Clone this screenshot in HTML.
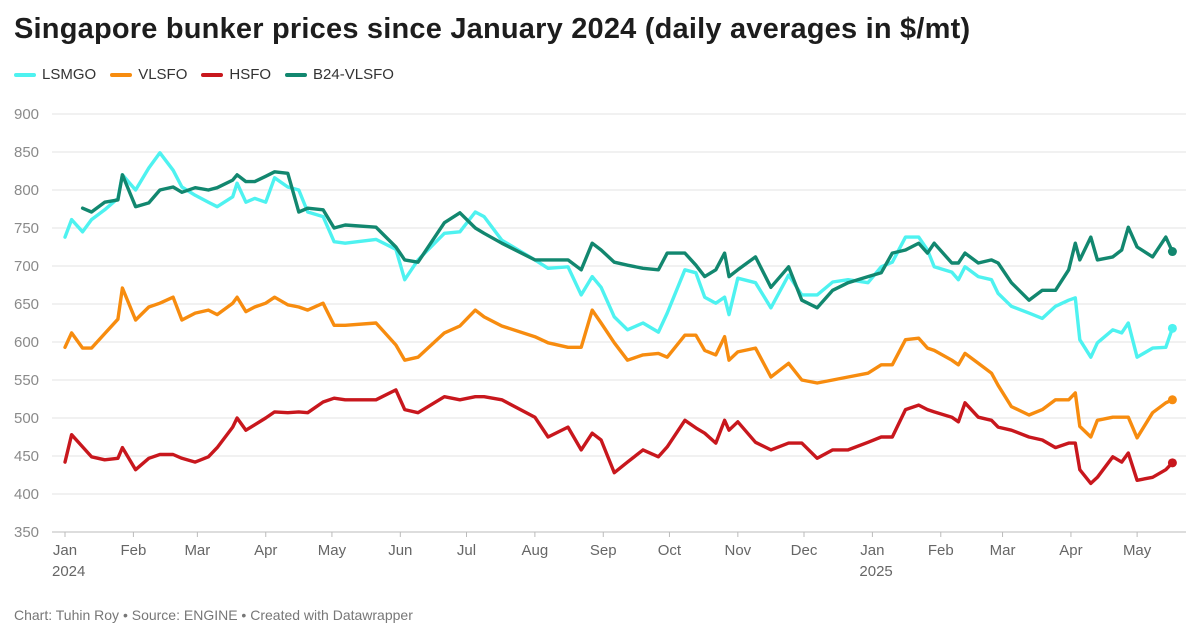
<!DOCTYPE html>
<html><head><meta charset="utf-8">
<style>
body{margin:0;background:#fff;width:1200px;height:640px;overflow:hidden;font-family:"Liberation Sans",Arial,sans-serif;}
#title{position:absolute;left:14px;top:13px;font-size:29px;font-weight:bold;color:#1d1d1d;letter-spacing:0.2px;white-space:nowrap}
#legend{position:absolute;left:14px;top:66px;font-size:15px;color:#333;display:flex;gap:0}
.li{display:flex;align-items:center;margin-right:14px}
.sw{width:22px;height:4px;border-radius:2px;margin-right:6px}
#footer{position:absolute;left:14px;top:607px;font-size:14px;color:#777}
svg{position:absolute;left:0;top:0}
</style></head><body>
<div id="title">Singapore bunker prices since January 2024 (daily averages in $/mt)</div>
<div id="legend">
<div class="li"><span class="sw" style="background:#4ef2f0"></span>LSMGO</div>
<div class="li"><span class="sw" style="background:#f78c0f"></span>VLSFO</div>
<div class="li"><span class="sw" style="background:#c8171d"></span>HSFO</div>
<div class="li"><span class="sw" style="background:#12876f"></span>B24-VLSFO</div>
</div>
<svg id="chart" width="1200" height="640"></svg>
<div id="footer">Chart: Tuhin Roy • Source: ENGINE • Created with Datawrapper</div>
<script>
const days=[0,3,8,12,18,24,26,32,38,43,49,53,59,65,69,76,78,82,86,91,95,101,106,110,117,122,127,141,150,154,160,172,179,186,190,198,213,219,228,234,239,243,249,255,262,269,273,281,286,290,295,299,301,305,313,320,328,334,341,348,355,364,370,375,381,387,391,394,402,405,408,414,420,423,429,437,443,449,455,458,460,465,468,475,479,482,486,493,499,502];
const lsmgo=[738,761,745,761,774,789,820,800,829,849,826,804,793,784,778,791,809,784,789,784,816,804,800,771,765,732,730,735,722,682,708,743,745,771,765,734,708,697,699,662,686,672,633,616,625,613,638,695,691,659,651,659,636,684,678,645,688,662,662,679,682,678,699,705,738,738,721,699,692,682,699,686,682,664,647,638,631,647,655,658,603,580,599,616,612,625,580,592,593,618];
const vlsfo=[593,612,592,592,611,630,671,629,646,651,659,629,638,642,636,651,659,640,646,651,659,649,646,642,651,622,622,625,596,576,580,612,621,642,633,621,607,599,593,593,642,625,599,576,583,585,580,609,609,589,583,607,576,587,592,554,572,550,546,550,554,559,570,570,603,605,592,589,576,570,585,572,559,543,515,504,511,524,524,533,489,475,497,501,501,501,474,507,520,524];
const hsfo=[442,478,462,449,445,447,461,432,447,452,452,447,442,449,461,488,500,484,491,500,508,507,508,507,521,526,524,524,537,511,507,528,524,528,528,524,501,475,488,458,480,471,428,442,458,449,462,497,487,480,467,497,484,495,468,458,467,467,447,458,458,468,475,475,511,517,511,508,501,495,520,501,497,488,484,475,471,461,467,467,432,414,422,449,442,454,418,422,432,441];
const b24=[null,null,776,771,784,787,820,778,783,800,804,797,803,800,803,813,820,811,811,818,824,822,771,776,774,750,754,751,725,708,705,757,770,750,743,730,708,708,708,695,730,721,705,701,697,695,717,717,701,686,695,717,686,695,712,672,699,655,645,668,678,686,691,717,721,730,717,730,704,704,717,704,708,704,678,655,668,668,695,730,708,738,708,712,721,751,725,712,738,719];
const yTicks=[350,400,450,500,550,600,650,700,750,800,850,900];
const monthDays=[0,31,60,91,121,152,182,213,244,274,305,335,366,397,425,456,486];
const monthLabels=["Jan","Feb","Mar","Apr","May","Jun","Jul","Aug","Sep","Oct","Nov","Dec","Jan","Feb","Mar","Apr","May"];
const yearLabels={0:"2024",366:"2025"};

const NS="http://www.w3.org/2000/svg";
const svg=document.getElementById('chart');
const X=d=>65+d*2.206;
const Y=v=>114+(900-v)*0.76;
function mk(tag,attrs){const e=document.createElementNS(NS,tag);for(const k in attrs)e.setAttribute(k,attrs[k]);svg.appendChild(e);return e;}
yTicks.forEach(t=>{
  const l=mk('line',{x1:52,x2:1186,y1:Y(t),y2:Y(t),stroke:t===350?'#bbb':'#e3e3e3','stroke-width':1});
  
  
  const tx=mk('text',{x:14,y:Y(t)+5,'font-size':15,fill:'#8a8a8a','font-family':'Liberation Sans, sans-serif'});
  tx.textContent=t;
  
  
});
monthDays.forEach((d,i)=>{
  const tk=mk('line',{x1:X(d),x2:X(d),y1:532,y2:537,stroke:'#bbb','stroke-width':1});
  
  
  const tx=mk('text',{x:X(d),y:555,'font-size':15,fill:'#666','text-anchor':'middle','font-family':'Liberation Sans, sans-serif'});
  tx.textContent=monthLabels[i];
  
  
  if(yearLabels[d]){
    const yt=mk('text',{x:X(d)-13,y:576,'font-size':15,fill:'#666','font-family':'Liberation Sans, sans-serif'});
    yt.textContent=yearLabels[d];
    
    
  }
});
function series(vals,color,name){
  let dstr='';let last=null;
  vals.forEach((v,i)=>{if(v==null)return;dstr+=(dstr?'L':'M')+X(days[i]).toFixed(1)+','+Y(v).toFixed(1);last=i;});
  const p=mk('path',{d:dstr,fill:'none',stroke:color,'stroke-width':3.4,'stroke-linejoin':'round','stroke-linecap':'round'});
  
  
  const c=mk('circle',{cx:X(days[last]),cy:Y(vals[last]),r:4.5,fill:color});
  
  
}
series(lsmgo,'#4ef2f0','lsmgo');
series(vlsfo,'#f78c0f','vlsfo');
series(hsfo,'#c8171d','hsfo');
series(b24,'#12876f','b24-vlsfo');
</script>
</body></html>
